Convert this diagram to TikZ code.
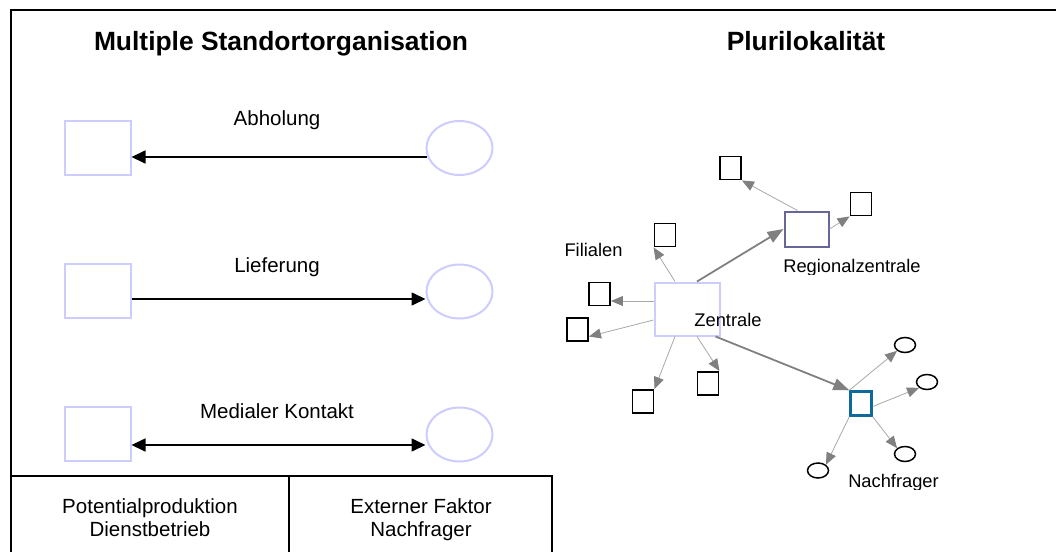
\documentclass[tikz,border=0pt]{standalone}
\usepackage{fontspec}
\setmainfont{Liberation Sans}
\usetikzlibrary{arrows.meta,shapes.geometric}
\definecolor{lav}{HTML}{CCCCFF}
\definecolor{regc}{HTML}{666699}
\definecolor{nachc}{HTML}{0E6A9A}
\definecolor{agray}{HTML}{808080}
\definecolor{tgray}{HTML}{A8A8A8}
\begin{document}
\begin{tikzpicture}[x=1pt,y=-1pt,
  lavbox/.style={draw=lav,line width=2pt,rectangle,inner sep=0pt,minimum width=66pt,minimum height=54pt},
  lavell/.style={draw=lav,line width=2pt,ellipse,inner sep=0pt,minimum width=66pt,minimum height=54pt},
  lbl/.style={font=\fontsize{20.5}{24}\selectfont,inner sep=0pt,anchor=base},
  ttl/.style={font=\fontsize{26.4}{30}\selectfont\bfseries,inner sep=0pt,anchor=base},
  rlbl/.style={font=\fontsize{18.3}{22}\selectfont,inner sep=0pt,anchor=base},
  blk/.style={draw=black,line width=1.6pt},
  barrow/.style={blk,-{Triangle[length=14pt,width=13pt]}},
  dbarrow/.style={blk,{Triangle[length=14pt,width=13pt]}-{Triangle[length=14pt,width=13pt]}},
  sqr/.style={draw=black,line width=1.9pt,rectangle,inner sep=0pt,minimum width=21pt,minimum height=23pt},
  ell/.style={draw=black,line width=1.5pt,ellipse,inner sep=0pt,minimum width=21pt,minimum height=15pt},
  thick arr/.style={draw=agray,line width=1.8pt,-{Triangle[length=16pt,width=12pt]}},
  thin arr/.style={draw=tgray,line width=0.8pt,-{Triangle[length=12pt,width=10pt,color=agray,fill=agray]}},
  frame/.style={draw=black,line width=2pt}
]
\useasboundingbox (0,0) rectangle (1056,551);
% frame
\draw[frame] (1060,10) -- (11,10) -- (11,555);
\draw[frame] (11,476) -- (552,476) -- (552,555);
\draw[frame] (289,476) -- (289,555);

% titles
\node[ttl] (t1) at (281,51) {Multiple Standortorganisation};
\node[ttl] (t2) at (806,51) {Plurilokalität};

% left rows
\node[lavbox] (s1) at (97.5,148) {};
\node[lavell] (c1) at (459.5,148) {};
\node[lavbox] (s2) at (97.5,290.5) {};
\node[lavell] (c2) at (459.5,291.5) {};
\node[lavbox] (s3) at (97.5,433.5) {};
\node[lavell] (c3) at (459.5,434.5) {};

\node[lbl] (l1) at (277,125) {Abholung};
\node[lbl] (l2) at (277,272) {Lieferung};
\node[lbl] (l3) at (277,418) {Medialer Kontakt};

\draw[barrow] ([yshift=-9pt,xshift=1pt]c1.west) -- ([yshift=-9pt]s1.east);
\draw[barrow] ([yshift=-8.5pt]s2.east) -- ([yshift=-7.5pt]c2.west);
\draw[dbarrow] ([yshift=-11.5pt]s3.east) -- ([yshift=-10.5pt]c3.west);

% table texts
\node[lbl] (p1) at (150,513) {Potentialproduktion};
\node[lbl] (p2) at (150,536) {Dienstbetrieb};
\node[lbl] (e1) at (421,513) {Externer Faktor};
\node[lbl] (e2) at (421,536) {Nachfrager};

% right network
\node[draw=lav,line width=2pt,rectangle,inner sep=0pt,minimum width=65pt,minimum height=53pt] (Z) at (687,309) {};
\node[draw=regc,line width=2pt,rectangle,inner sep=0pt,minimum width=44pt,minimum height=35pt] (R) at (806.5,229) {};
\node[draw=nachc,line width=2.4pt,rectangle,inner sep=0pt,minimum width=21pt,minimum height=24pt] (N) at (861,403.5) {};

\node[sqr] (RC1) at (730.5,168) {};
\node[sqr] (RC2) at (861,204) {};
\node[sqr] (E) at (665,235) {};
\node[sqr] (A) at (599.5,294) {};
\node[sqr] (B) at (577.5,329.5) {};
\node[sqr] (C) at (643,401.5) {};
\node[sqr] (D) at (708,383.5) {};

\node[ell] (O1) at (905,345) {};
\node[ell] (O2) at (927,382) {};
\node[ell] (O3) at (905,454) {};
\node[ell] (O4) at (818,470.5) {};

\begin{scope}
\clip (560,230) rectangle (630,257.5);
\node[rlbl] (fil) at (593.5,256) {Filialen};
\end{scope}
\node[rlbl] (zen) at (728,326) {Zentrale};
\begin{scope}
\clip (770,250) rectangle (940,274);
\node[rlbl] (reg) at (852,272) {Regionalzentrale};
\end{scope}
\begin{scope}
\clip (840,465) rectangle (950,489);
\node[rlbl] (nach) at (893.5,487) {Nachfrager};
\end{scope}

\draw[thick arr] ([xshift=10pt]Z.north) -- (R.west);
\draw[thick arr] ([xshift=-5pt]Z.south east) -- (N.north west);
\draw[thin arr] ([xshift=-9pt]R.north) -- (RC1.south east);
\draw[thin arr] (R.east) -- (RC2.south west);
\draw[thin arr] ([xshift=-12pt]Z.north) -- (E.south west);
\draw[thin arr] ([yshift=8pt]Z.west) -- ([yshift=-7pt]A.east);
\draw[thin arr] ([yshift=-11pt]Z.west) -- ([yshift=-7pt]B.east);
\draw[thin arr] ([xshift=-12pt]Z.south) -- (C.north east);
\draw[thin arr] ([xshift=10pt]Z.south) -- (D.north east);
\draw[thin arr] (N.north west) -- (O1.south west);
\draw[thin arr] ([yshift=-3pt]N.east) -- (O2.south west);
\draw[thin arr] (N.south east) -- (O3.north west);
\draw[thin arr] (N.south west) -- (O4.north east);
\end{tikzpicture}
\end{document}
